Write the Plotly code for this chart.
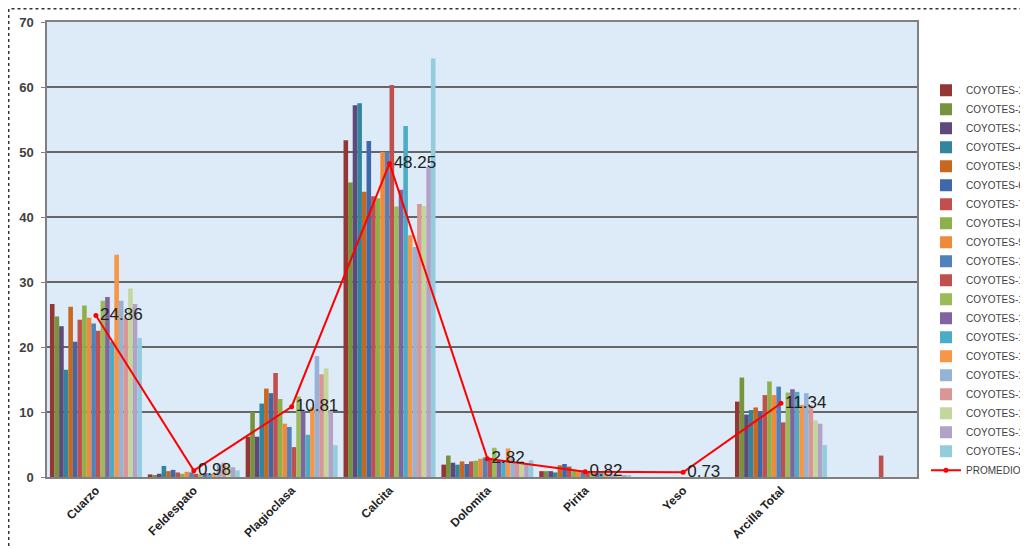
import plotly.graph_objects as go

# categories along the x axis (last one has no label)
categories = ["Cuarzo", "Feldespato", "Plagioclasa", "Calcita", "Dolomita",
              "Pirita", "Yeso", "Arcilla Total", " "]

# bar values per category, one value for each of the 20 samples
cuarzo = [26.6, 24.7, 23.2, 16.5, 26.2, 20.8, 24.2, 26.4, 24.5, 23.6,
          22.5, 27.1, 27.7, 20.8, 34.2, 27.1, 24.4, 29.0, 26.6, 21.4]
feldespato = [0.4, 0.3, 0.5, 1.7, 0.9, 1.1, 0.7, 0.5, 0.8, 0.7,
              0.5, 0.4, 0.6, 0.5, 0.6, 1.9, 2.2, 1.8, 1.5, 1.0]
plagioclasa = [6.2, 10.0, 6.2, 11.3, 13.6, 12.9, 16.0, 12.0, 8.2, 7.7,
               4.6, 12.4, 10.2, 6.5, 10.7, 18.6, 15.8, 16.7, 10.3, 4.9]
calcita = [51.8, 45.3, 57.2, 57.5, 43.9, 51.7, 43.2, 42.9, 50.0, 50.0,
           60.3, 41.6, 44.2, 54.0, 37.2, 35.4, 42.0, 41.7, 47.7, 64.4]
dolomita = [1.9, 3.3, 2.2, 1.9, 2.4, 2.0, 2.4, 2.5, 2.8, 3.0,
            2.9, 4.5, 2.6, 2.4, 4.4, 2.9, 2.1, 2.1, 2.1, 2.6]
pirita = [0.9, 0.9, 0.9, 0.7, 1.8, 2.0, 1.6, 1.0, 0.9, 1.0,
          0.8, 0.7, 0.6, 0.8, 0.5, 0.5, 0.4, 0.4, 0.3, 0.3]
yeso = [0.0] * 20
arcilla = [11.6, 15.3, 9.6, 10.3, 10.7, 10.0, 12.6, 14.7, 12.6, 13.9,
           8.4, 13.0, 13.5, 13.1, 11.1, 12.9, 11.0, 8.7, 8.2, 4.9]
otro = [0, 0, 0, 0, 0, 0, 0, 0, 0, 0,
        3.3, 0, 0, 0, 0, 0, 0, 0, 0, 0]

# average line
promedio = [24.86, 0.98, 10.81, 48.25, 2.82, 0.82, 0.73, 11.34]

series_names = ["COYOTES-%d" % (i + 1) for i in range(20)]
colors = ["#943634", "#77933C", "#5F497A", "#31859C", "#C8671E",
          "#3D69AB", "#C0504D", "#8DB048", "#F08A3A", "#4F81BD",
          "#C0504D", "#9BBB59", "#8064A2", "#4BACC6", "#F79646",
          "#95B3D7", "#D99694", "#C3D69B", "#B3A2C7", "#93CDDD"]

rows = [cuarzo, feldespato, plagioclasa, calcita, dolomita, pirita, yeso, arcilla, otro]

fig = go.Figure()
for i, name in enumerate(series_names):
    fig.add_trace(go.Bar(x=categories, y=[r[i] for r in rows], name=name,
                         marker=dict(color=colors[i], line=dict(width=0))))

fig.add_trace(go.Scatter(x=categories[:8], y=promedio, name="PROMEDIO",
                         mode="lines+markers+text",
                         line=dict(color="#FF0000", width=2),
                         marker=dict(color="#FF0000", size=5),
                         text=["%.2f" % v for v in promedio],
                         textposition="middle right",
                         textfont=dict(family="Arial, Liberation Sans", size=17, color="#222222")))

# the page body adds an 8px offset, so the figure is 8px smaller each way
fig.update_layout(
    width=1020, height=540,
    margin=dict(l=39, r=111, t=14, b=71),
    paper_bgcolor="white", plot_bgcolor="#DDEBF8",
    barmode="group", bargap=0.06, bargroupgap=0,
    font=dict(family="Arial, Liberation Sans"),
    legend=dict(xref="container", yref="container",
                x=0.9, xanchor="left", y=0.496, yanchor="middle",
                maxheight=520,
                font=dict(size=10, color="#404040"), tracegroupgap=0,
                bgcolor="rgba(0,0,0,0)"),
)
fig.update_xaxes(range=[-0.5, 8.39], tickangle=-45, automargin=False,
                 tickfont=dict(size=12, color="#222222", weight="bold"),
                 showline=True, linecolor="#808080", linewidth=1.5, mirror=True,
                 ticks="", showgrid=False)
fig.update_yaxes(range=[0, 70], dtick=10, automargin=False,
                 tickfont=dict(size=13, color="#404040", weight="bold"),
                 showline=True, linecolor="#808080", linewidth=1.5, mirror=True,
                 ticks="outside", ticklen=4, tickcolor="#808080", ticklabelstandoff=5,
                 gridcolor="#666666", gridwidth=1.5, zeroline=False)

# dotted outer border of the chart
fig.add_shape(type="rect", xref="paper", yref="paper",
              x0=-0.044, x1=1.2, y0=-0.2, y1=1.029,
              line=dict(color="#333333", width=1.5, dash="dot"))

fig.write_html("out.html")
